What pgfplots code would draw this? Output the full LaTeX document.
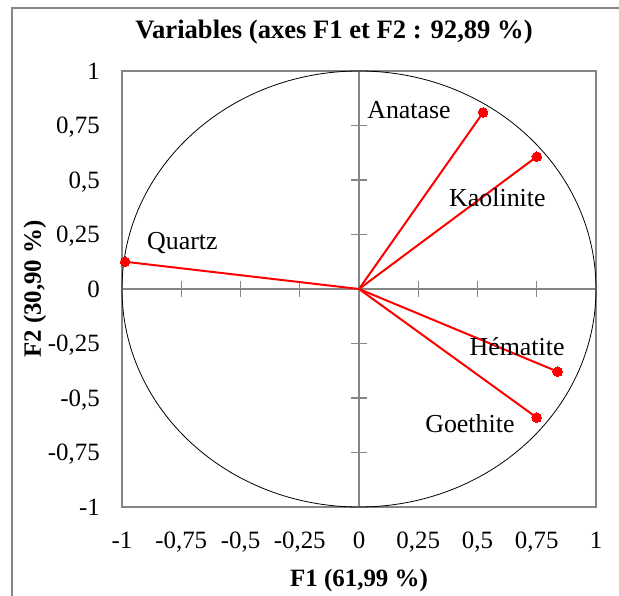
\documentclass[border=0pt]{standalone}
\usepackage{fontspec}
\setmainfont{Liberation Serif}
\usepackage{pgfplots}
\pgfplotsset{compat=1.18}
\definecolor{framegray}{RGB}{134,134,134}
\definecolor{axgray}{RGB}{134,134,134}
\tikzset{vec/.style={red, line width=2bp, mark=*, mark size=4.8bp, mark indices={2}, mark options={solid, fill=red, draw=red, line width=0pt}}}
\begin{document}
\begin{tikzpicture}[x=1bp,y=1bp]
\useasboundingbox (-122,-89) rectangle (497,507);
\draw[framegray, line width=1.5bp] (-110,-120) -- (-110,499) -- (520,499);
\node[font=\fontsize{26.7}{31}\selectfont\bfseries] at (212,475) {Variables (axes F1 et F2 : 92,89 \%)};
\node[rotate=90, inner sep=0pt, font=\fontsize{25}{30}\selectfont\bfseries] at (-87,218) {F2 (30,90 \%)};
\begin{axis}[at={(0,0)}, anchor=south west, scale only axis,
  width=474bp, height=436bp,
  xmin=-1, xmax=1, ymin=-1, ymax=1,
  clip=false,
  axis line style={draw=axgray, line width=1.4bp},
  major tick length=0pt,
  xtick={-1,-0.75,-0.5,-0.25,0,0.25,0.5,0.75,1},
  ytick={-1,-0.75,-0.5,-0.25,0,0.25,0.5,0.75,1},
  xticklabels={-1,{-0,75},{-0,5},{-0,25},0,{0,25},{0,5},{0,75},1},
  yticklabels={-1,{-0,75},{-0,5},{-0,25},0,{0,25},{0,5},{0,75},1},
  xticklabel style={anchor=base, yshift=-41bp, inner sep=0pt, font=\fontsize{25}{30}\selectfont},
  yticklabel style={anchor=east, xshift=-22bp, inner sep=0pt, text depth=0pt, font=\fontsize{25}{30}\selectfont},
  xlabel={F1 (61,99 \%)},
  xlabel style={at={(axis description cs:0.5,0)}, anchor=base, yshift=-79bp, inner sep=0pt, font=\fontsize{25}{30}\selectfont\bfseries},
]
\draw[axgray, line width=1.4bp] (axis cs:-1,0) -- (axis cs:1,0);
\draw[axgray, line width=1.4bp] (axis cs:0,-1) -- (axis cs:0,1);
\pgfplotsinvokeforeach{-0.75,-0.5,-0.25,0.25,0.5,0.75}{
  \draw[axgray, line width=1.4bp] ([yshift=-8bp]axis cs:#1,0) -- ([yshift=8bp]axis cs:#1,0);
  \draw[axgray, line width=1.4bp] ([xshift=-8bp]axis cs:0,#1) -- ([xshift=8bp]axis cs:0,#1);
}
\draw[black, line width=0.8bp] (axis cs:0,0) ellipse [x radius=1, y radius=1];
\addplot[vec] coordinates {(0,0) (0.524,0.810)};
\addplot[vec] coordinates {(0,0) (0.750,0.607)};
\addplot[vec] coordinates {(0,0) (-0.987,0.125)};
\addplot[vec] coordinates {(0,0) (0.838,-0.379)};
\addplot[vec] coordinates {(0,0) (0.750,-0.590)};
\node[font=\fontsize{26}{31}\selectfont] at (axis cs:0.211,0.821) {Anatase};
\node[font=\fontsize{26}{31}\selectfont] at (axis cs:0.584,0.417) {Kaolinite};
\node[font=\fontsize{26}{31}\selectfont] at (axis cs:-0.745,0.211) {Quartz};
\node[font=\fontsize{26}{31}\selectfont] at (axis cs:0.667,-0.266) {Hématite};
\node[font=\fontsize{26}{31}\selectfont] at (axis cs:0.468,-0.619) {Goethite};
\end{axis}
\end{tikzpicture}
\end{document}
